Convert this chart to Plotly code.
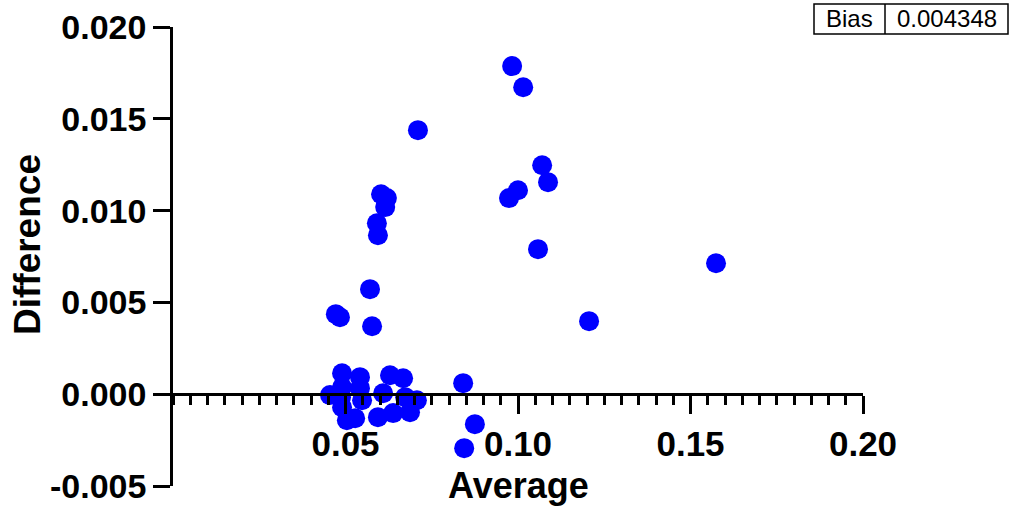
import plotly.graph_objects as go

# Data
average = [0.0983, 0.1015, 0.1070, 0.1087, 0.1000, 0.0974, 0.1058, 0.1574, 0.1206, 0.0710,
           0.0603, 0.0620, 0.0615, 0.0591, 0.0594,
           0.0571, 0.0472, 0.0484, 0.0577,
           0.0490, 0.0542, 0.0629, 0.0667, 0.0455, 0.0490, 0.0542, 0.0548, 0.0609, 0.0673,
           0.0707, 0.0490, 0.0528, 0.0504, 0.0594, 0.0638, 0.0687, 0.0487,
           0.0841, 0.0875, 0.0844]
difference = [0.01787, 0.01672, 0.01247, 0.01155, 0.01111, 0.01068, 0.00790, 0.00713, 0.00398, 0.01438,
              0.01089, 0.01068, 0.01019, 0.00931, 0.00866,
              0.00572, 0.00436, 0.00419, 0.00370,
              0.00114, 0.00093, 0.00103, 0.00087, -0.00005, 0.00038, 0.00033, -0.00033, 0.00005, -0.00016,
              -0.00033, -0.00071, -0.00131, -0.00142, -0.00125, -0.00103, -0.00098, -0.00016,
              0.00060, -0.00163, -0.00294]
bias_label = "Bias"
bias_value = "0.004348"

x_ticks = [0.05, 0.10, 0.15, 0.20]
x_ticktext = ["0.05", "0.10", "0.15", "0.20"]
y_ticks = [-0.005, 0.0, 0.005, 0.010, 0.015, 0.020]
y_ticktext = ["-0.005", "0.000", "0.005", "0.010", "0.015", "0.020"]

W, H = 1011, 508
L, R, T, B = 173, W - 863, 27, H - 486
PW, PH = W - L - R, H - T - B


def px(xp):
    return (xp - L) / PW


def py(yp):
    return (H - B - yp) / PH


FONT = "Liberation Sans, Arial, sans-serif"
ymin, ymax = -0.005, 0.020

fig = go.Figure()
fig.add_trace(go.Scatter(
    x=average, y=difference, mode="markers",
    marker=dict(color="#0000FF", size=20, line=dict(width=0)),
    cliponaxis=False, showlegend=False,
))

fig.update_layout(
    width=W, height=H,
    margin=dict(l=L, r=R, t=T, b=B, autoexpand=False),
    paper_bgcolor="white", plot_bgcolor="white",
    xaxis=dict(
        range=[0, 0.20], anchor="free", position=(0 - ymin) / (ymax - ymin), automargin=False,
        showgrid=False, zeroline=False, showline=True, linecolor="black", linewidth=2.5,
        ticks="outside", ticklen=18, tickwidth=2.5, tickcolor="black",
        tickvals=x_ticks, ticktext=x_ticktext,
        tickfont=dict(family=FONT, size=35, color="black", weight="bold"),
        minor=dict(dtick=0.005, tick0=0, ticks="outside", ticklen=9, tickwidth=2.5, tickcolor="black", showgrid=False),
    ),
    yaxis=dict(
        range=[ymin, ymax], automargin=False,
        showgrid=False, zeroline=False, showline=True, linecolor="black", linewidth=2.5,
        ticks="outside", ticklen=17, tickwidth=2.5, tickcolor="black",
        tickvals=y_ticks, ticktext=y_ticktext,
        tickfont=dict(family=FONT, size=34, color="black", weight="bold"),
    ),
)

# Axis titles
fig.add_annotation(text="<b>Average</b>", xref="paper", yref="paper", x=px(518), y=py(485),
                   showarrow=False, font=dict(family=FONT, size=36, color="black"),
                   xanchor="center", yanchor="middle")
fig.add_annotation(text="<b>Difference</b>", xref="paper", yref="paper", x=px(27), y=py(245),
                   showarrow=False, textangle=-90, font=dict(family=FONT, size=37, color="black"),
                   xanchor="center", yanchor="middle")

# Bias box
bx0, bx1, bxm, by0, by1 = 814, 1008, 885, 4, 34
fig.add_shape(type="rect", xref="paper", yref="paper", x0=px(bx0), x1=px(bx1), y0=py(by1), y1=py(by0),
              line=dict(color="black", width=1.5), fillcolor="white")
fig.add_shape(type="line", xref="paper", yref="paper", x0=px(bxm), x1=px(bxm), y0=py(by1), y1=py(by0),
              line=dict(color="black", width=1.5))
fig.add_annotation(text=bias_label, xref="paper", yref="paper", x=px((bx0 + bxm) / 2), y=py((by0 + by1) / 2),
                   showarrow=False, font=dict(family=FONT, size=24, color="black"),
                   xanchor="center", yanchor="middle")
fig.add_annotation(text=bias_value, xref="paper", yref="paper", x=px((bxm + bx1) / 2), y=py((by0 + by1) / 2),
                   showarrow=False, font=dict(family=FONT, size=24, color="black"),
                   xanchor="center", yanchor="middle")

fig.write_html("out.html")
